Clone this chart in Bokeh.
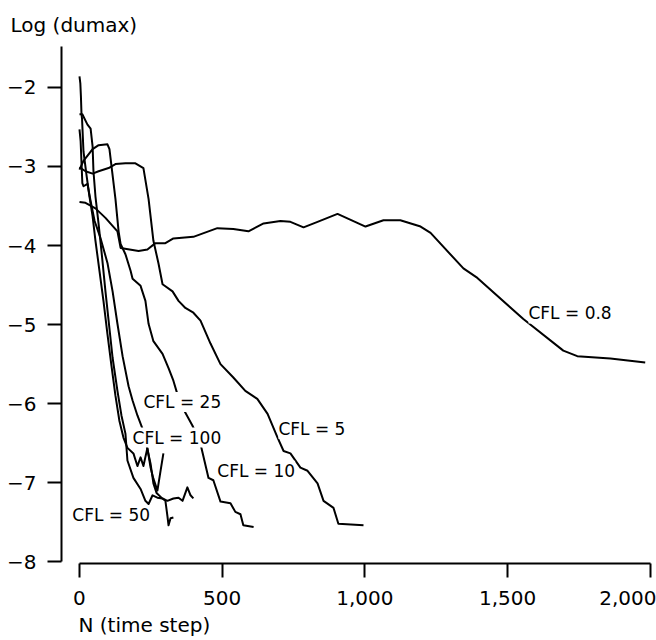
from bokeh.plotting import figure
from bokeh.models import Range1d, FixedTicker, NumeralTickFormatter, CustomJSTickFormatter, Label, Title
from bokeh.embed import file_html
from bokeh.resources import INLINE

# N (time step) and Log(dumax) for each CFL number
n_08 = [0, 21, 56, 91, 133, 144, 207, 238, 266, 301, 329, 399, 483, 539, 592, 645, 704, 739, 785, 834,
        904, 1002, 1065, 1124, 1195, 1230, 1345, 1394, 1555, 1695, 1744, 1860, 1982]
v_08 = [-3.45, -3.46, -3.53, -3.65, -3.82, -4.03, -4.07, -4.05, -3.97, -3.97, -3.91, -3.89, -3.78, -3.79,
        -3.82, -3.72, -3.69, -3.70, -3.77, -3.70, -3.60, -3.76, -3.68, -3.68, -3.76, -3.84, -4.29, -4.41,
        -4.93, -5.33, -5.40, -5.43, -5.48]

n_5 = [0, 21, 46, 67, 102, 126, 161, 196, 224, 242, 259, 277, 291, 326, 347, 371, 399, 424, 459, 494,
       539, 581, 623, 659, 694, 715, 739, 774, 799, 834, 855, 890, 907, 995]
v_5 = [-3.01, -3.06, -3.09, -3.06, -3.02, -2.97, -2.96, -2.96, -3.02, -3.41, -3.94, -4.23, -4.49, -4.58,
       -4.70, -4.79, -4.85, -4.95, -5.24, -5.50, -5.67, -5.84, -5.94, -6.13, -6.43, -6.60, -6.63, -6.81,
       -6.85, -7.01, -7.23, -7.32, -7.52, -7.54]

n_10 = [0, 14, 46, 67, 98, 105, 126, 137, 144, 161, 179, 186, 214, 231, 242, 259, 291, 312, 329, 343,
        361, 396, 424, 452, 469, 494, 529, 546, 564, 574, 610]
v_10 = [-3.04, -2.93, -2.78, -2.73, -2.72, -2.78, -3.41, -3.82, -3.98, -4.11, -4.32, -4.42, -4.51, -4.70,
        -4.99, -5.21, -5.37, -5.55, -5.71, -5.88, -6.05, -6.28, -6.51, -6.94, -6.97, -7.24, -7.26, -7.37,
        -7.40, -7.54, -7.56]

n_25 = [0, 4, 10, 14, 28, 39, 53, 74, 98, 116, 133, 151, 172, 186, 203, 221, 235, 249, 259, 270, 287,
        301, 308, 312, 319, 329]
v_25 = [-2.53, -2.68, -3.21, -3.25, -3.22, -3.44, -3.69, -3.91, -4.22, -4.58, -4.99, -5.40, -5.78, -5.96,
        -6.15, -6.32, -6.53, -6.76, -7.01, -7.13, -7.19, -7.23, -7.42, -7.54, -7.45, -7.44]

n_50 = [0, 10, 28, 39, 46, 49, 56, 67, 77, 91, 102, 116, 133, 147, 161, 168, 189, 214, 231, 242, 256,
        273, 291, 308, 329, 347, 361, 378, 389, 399]
v_50 = [-2.34, -2.34, -2.47, -2.52, -2.75, -3.06, -3.38, -3.73, -4.07, -4.58, -4.95, -5.42, -5.84, -6.15,
        -6.38, -6.72, -6.94, -7.08, -7.23, -7.27, -7.16, -7.19, -7.20, -7.23, -7.20, -7.19, -7.23, -7.06,
        -7.16, -7.20]

n_100 = [0, 3, 5, 7, 9, 14, 25, 35, 46, 56, 70, 84, 98, 112, 126, 140, 154, 168, 189, 203, 214, 224,
         238, 249, 259, 273, 284, 294]
v_100 = [-1.86, -1.95, -2.11, -2.33, -2.40, -2.81, -3.12, -3.38, -3.63, -3.94, -4.32, -4.70, -5.12, -5.52,
         -5.90, -6.22, -6.43, -6.56, -6.63, -6.79, -6.68, -6.79, -6.56, -6.81, -6.95, -7.10, -6.85, -6.63]

label_texts = ["CFL = 0.8", "CFL = 5", "CFL = 10", "CFL = 25", "CFL = 100", "CFL = 50"]
label_n = [1573, 697, 483, 224, 186, -25]
label_v = [-4.86, -6.32, -6.85, -5.98, -6.43, -7.41]

x_ticks = [0, 500, 1000, 1500, 2000]
y_ticks = [-8, -7, -6, -5, -4, -3, -2]

y_title = "Log (dumax)"
x_title = "N (time step)"

FONT = "DejaVu Sans"

p = figure(width=656, height=640, output_backend="svg", toolbar_location=None,
           x_range=Range1d(-63, 2004), y_range=Range1d(-8.023, -1.482),
           min_border_left=61, min_border_right=5, min_border_top=45, min_border_bottom=77)

p.outline_line_color = None
p.xgrid.visible = False
p.ygrid.visible = False

for xs, ys in [(n_08, v_08), (n_5, v_5), (n_10, v_10), (n_25, v_25), (n_50, v_50), (n_100, v_100)]:
    p.line(xs, ys, line_color="black", line_width=2, line_join="round")

for t, xn, yv in zip(label_texts, label_n, label_v):
    p.add_layout(Label(x=xn, y=yv, text=t, text_align="left", text_baseline="middle",
                       text_font=FONT, text_font_size="17px", text_color="black",
                       background_fill_color="white"))

# axis titles as plot titles (top-left and bottom-left)
p.add_layout(Title(text=y_title, align="left", offset=-51, standoff=20,
                   text_font=FONT, text_font_size="20px", text_font_style="normal",
                   text_color="black"), "above")
p.add_layout(Title(text=x_title, align="left", offset=17, standoff=6,
                   text_font=FONT, text_font_size="20px", text_font_style="normal",
                   text_color="black"), "below")

xa = p.xaxis[0]
xa.ticker = FixedTicker(ticks=x_ticks)
xa.formatter = NumeralTickFormatter(format="0,0")
xa.bounds = (0, 2000)
xa.axis_line_width = 2
xa.major_tick_line_width = 2
xa.major_tick_out = 14
xa.major_tick_in = 0
xa.minor_tick_line_color = None
xa.major_label_standoff = 13
xa.major_label_text_font = FONT
xa.major_label_text_font_size = "20px"
xa.major_label_text_color = "black"

ya = p.yaxis[0]
ya.ticker = FixedTicker(ticks=y_ticks)
ya.formatter = CustomJSTickFormatter(code="return (tick < 0 ? '\\u2212' : '') + Math.abs(tick).toFixed(0);")
ya.bounds = (-8, -1.482)
ya.axis_line_width = 2
ya.major_tick_line_width = 2
ya.major_tick_out = 14
ya.major_tick_in = 0
ya.minor_tick_line_color = None
ya.major_label_standoff = 11
ya.major_label_text_font = FONT
ya.major_label_text_font_size = "20px"
ya.major_label_text_color = "black"

open("out.html", "w").write(file_html(p, INLINE))
